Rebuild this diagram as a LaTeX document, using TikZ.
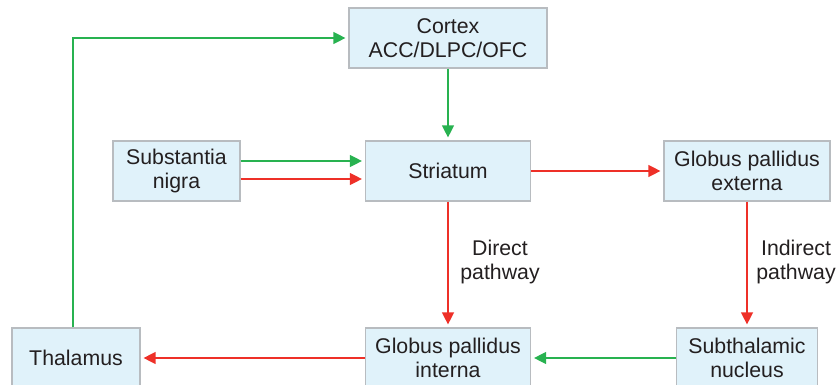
\documentclass[tikz,border=0pt]{standalone}
\usepackage{fontspec}
\setmainfont{Liberation Sans}
\usetikzlibrary{arrows.meta,calc}
\definecolor{boxfill}{RGB}{224,242,250}
\definecolor{boxline}{RGB}{184,188,192}
\definecolor{txt}{RGB}{35,31,32}
\definecolor{exc}{RGB}{40,178,80}
\definecolor{inh}{RGB}{238,48,40}
\tikzset{
  region/.style={draw=boxline, fill=boxfill, line width=1.2pt, text=txt,
    align=center, inner sep=0pt, minimum height=60pt,
    font=\fontsize{21.3}{23.5}\selectfont},
  conn/.style={line width=1.3pt, shorten >=3pt,
    -{Triangle[length=12pt,width=12pt]}},
  excite/.style={conn, draw=exc},
  inhibit/.style={conn, draw=inh},
  pathlabel/.style={text=txt, align=center, font=\fontsize{21.3}{23.5}\selectfont}
}
\begin{document}
\begin{tikzpicture}[x=1pt,y=-1pt]
  \useasboundingbox (0,0) rectangle (837,385);
  \clip (0,0) rectangle (837,385);

  % brain regions
  \node[region, minimum width=198pt] (cortex) at (448,38) {Cortex\\ACC/DLPC/OFC};
  \node[region, minimum width=127pt] (sn) at (176.5,171) {Substantia\\nigra};
  \node[region, minimum width=165pt] (str) at (448,171) {Striatum};
  \node[region, minimum width=166pt] (gpe) at (747,171) {Globus pallidus\\externa};
  \node[region, minimum width=128pt] (thal) at (76,358) {Thalamus};
  \node[region, minimum width=165pt] (gpi) at (448,358) {Globus pallidus\\interna};
  \node[region, minimum width=141pt] (stn) at (747,358) {Subthalamic\\nucleus};

  % projections
  \draw[excite] ([xshift=-3pt]thal.north) |- (cortex.west);
  \draw[excite] (cortex.south) -- (str.north);
  \draw[excite] ([yshift=10pt]sn.east) -- ([yshift=10pt]str.west);
  \draw[inhibit] ([yshift=-8pt]sn.east) -- ([yshift=-8pt]str.west);
  \draw[inhibit] (str.east) -- (gpe.west);
  \draw[inhibit] (str.south) -- (gpi.north);
  \draw[inhibit] (gpe.south) -- (stn.north);
  \draw[excite] (stn.west) -- (gpi.east);
  \draw[inhibit] (gpi.west) -- (thal.east);

  % pathway labels
  \node[pathlabel] (direct) at (500,262) {Direct\\pathway};
  \node[pathlabel] (indirect) at (796,262) {Indirect\\pathway};
\end{tikzpicture}
\end{document}
